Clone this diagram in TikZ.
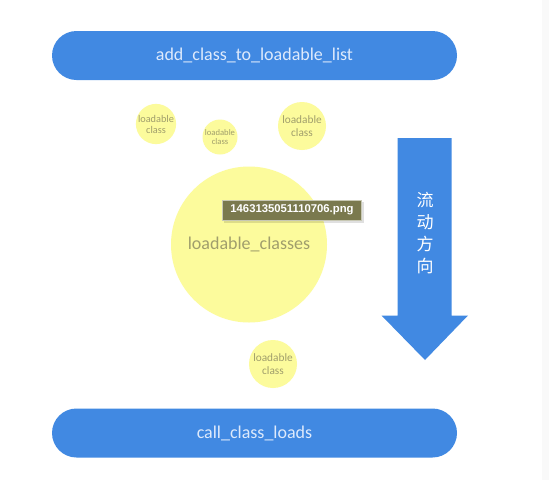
\documentclass[tikz,border=0pt]{standalone}
\usepackage{fontspec}
\setmainfont{Carlito}
\newfontfamily\cjkfont{Noto Sans CJK SC}
\newfontfamily\tipfont{Liberation Sans}
\definecolor{pillblue}{RGB}{65,137,226}
\definecolor{pilltext}{RGB}{222,234,252}
\definecolor{circfill}{RGB}{252,251,156}
\definecolor{circtext}{RGB}{160,158,108}
\definecolor{tipfill}{RGB}{122,121,78}
\definecolor{tipborder}{RGB}{200,200,180}
\definecolor{stripgray}{RGB}{249,249,249}
\tikzset{
  pill/.style={fill=pillblue, draw=none, rounded corners=24.5pt, minimum width=405pt, minimum height=49pt, inner sep=0pt, text=pilltext, font=\fontsize{18}{20}\selectfont},
  blob/.style={circle, fill=circfill, draw=none, inner sep=0pt, text=circtext, align=center},
  tip/.style={fill=tipfill, draw=tipborder, line width=0.8pt, minimum width=139pt, minimum height=20pt, inner sep=0pt, text=white, font=\tipfont\bfseries\fontsize{11.3}{12}\selectfont},
}
\begin{document}
\begin{tikzpicture}[x=1pt,y=-1pt]
\useasboundingbox (0,0) rectangle (549,480);
\fill[white] (0,0) rectangle (549,480);
\fill[stripgray] (542,0) rectangle (549,480);
% pills
\node[pill] (top) at (254.5,55.5) {add\_class\_to\_loadable\_list};
\node[pill] (bottom) at (254.5,433) {call\_class\_loads};
% circles
\node[blob, minimum size=156pt, font=\fontsize{18}{20}\selectfont] (big) at (249,244.5) {loadable\_classes};
\node[blob, minimum size=40pt, font=\fontsize{10.3}{11}\selectfont] (c1) at (156,124) {loadable\\class};
\node[blob, minimum size=35pt, font=\fontsize{8.6}{9.5}\selectfont] (c2) at (220,137) {loadable\\class};
\node[blob, minimum size=48pt, font=\fontsize{11.3}{12.3}\selectfont] (c3) at (302,126) {loadable\\class};
\node[blob, minimum size=48pt, font=\fontsize{11.3}{12.3}\selectfont] (c4) at (273,364) {loadable\\class};
% flow arrow
\fill[pillblue] (397.5,138) -- (451.5,138) -- (451.5,315.5) -- (468,315.5) -- (425,360) -- (381.5,315.5) -- (397.5,315.5) -- cycle;
\node[text=white, font=\cjkfont\fontsize{17}{22}\selectfont, align=center, inner sep=0pt] (flow) at (425,233) {流\\动\\方\\向};
% tooltip
\fill[black, opacity=0.12] (223.5,202) rectangle (363.5,222.5);
\node[tip] (tipbox) at (292,210) {1463135051110706.png};
\end{tikzpicture}
\end{document}
